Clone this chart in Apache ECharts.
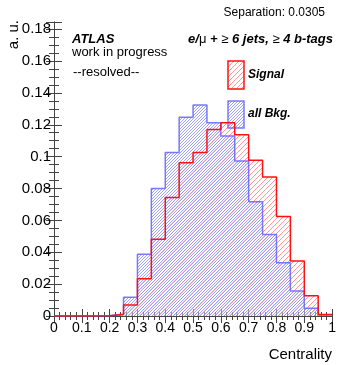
<!DOCTYPE html>
<html>
<head>
<meta charset="utf-8">
<script src="https://cdn.jsdelivr.net/npm/echarts@6/dist/echarts.min.js"></script>
<style>
  html, body { margin: 0; padding: 0; background: #fff; }
  #chart { width: 339px; height: 365px; }
</style>
</head>
<body>
<div id="chart"></div>
<script>
// bin low edges (width 0.05)
const binLow = [0, 0.05, 0.1, 0.15, 0.2, 0.25, 0.3, 0.35, 0.4, 0.45,
  0.5, 0.55, 0.6, 0.65, 0.7, 0.75, 0.8, 0.85, 0.9, 0.95];
const binHigh = 1;

// normalised histograms (a. u.)
const signal = [0, 0, 0, 0.0002, 0.001, 0.0069, 0.0234, 0.0481, 0.0744, 0.0961,
  0.1026, 0.117, 0.1212, 0.1137, 0.0978, 0.0873, 0.0625, 0.0345, 0.0127, 0.001];
const background = [0, 0, 0, 0.0002, 0.0013, 0.0117, 0.0387, 0.080, 0.1026, 0.1248,
  0.1324, 0.1213, 0.1129, 0.0973, 0.0717, 0.0512, 0.0334, 0.0157, 0.0048, 0.0006];

const legendNames = ["Signal", "all Bkg."];
const separationText = "Separation: 0.0305";

const FONT = "Liberation Sans";

// diagonal hatch tile
function hatch(color, size, lw, bg) {
  const c = document.createElement("canvas");
  c.width = size;
  c.height = size;
  const g = c.getContext("2d");
  if (bg) {
    g.fillStyle = bg;
    g.fillRect(0, 0, size, size);
  }
  g.strokeStyle = color;
  g.lineWidth = lw;
  g.beginPath();
  g.moveTo(0, size); g.lineTo(size, 0);
  g.moveTo(-1, 1); g.lineTo(1, -1);
  g.moveTo(size - 1, size + 1); g.lineTo(size + 1, size - 1);
  g.stroke();
  return { image: c, repeat: "repeat" };
}

const redHatch = hatch("rgba(255,50,50,0.5)", 5, 1);
const blueHatch = hatch("rgba(80,90,255,0.55)", 3, 1, "rgba(255,255,255,0.45)");

function stepData(vals) {
  const pts = binLow.map((x, i) => [x, vals[i]]);
  pts.push([binHigh, vals[vals.length - 1]]);
  return pts;
}

const chart = echarts.init(document.getElementById("chart"), null, { renderer: "canvas" });

const axisCol = "#444";
const tickCommon = {
  axisLine: { show: true, lineStyle: { color: axisCol, width: 1 } },
  splitLine: { show: false },
};

chart.setOption({
  animation: false,
  grid: { left: 54, right: 6, top: 22, bottom: 49 },
  xAxis: [
    {
      type: "value", min: 0, max: 1, interval: 0.1, position: "bottom",
      ...tickCommon,
      axisTick: { inside: true, length: 7, lineStyle: { color: axisCol } },
      minorTick: { show: true, splitNumber: 5, length: 4, lineStyle: { color: axisCol } },
      axisLabel: { color: "#000", fontFamily: FONT, fontSize: 14, margin: 5 },
    },
    {
      type: "value", min: 0, max: 1, interval: 0.1, position: "top",
      ...tickCommon,
      axisTick: { inside: true, length: 7, lineStyle: { color: axisCol } },
      minorTick: { show: true, splitNumber: 5, length: 4, lineStyle: { color: axisCol } },
      axisLabel: { show: false },
    },
  ],
  yAxis: [
    {
      type: "value", min: 0, max: 0.1845, interval: 0.02, position: "left",
      ...tickCommon,
      axisTick: { inside: true, length: 8, lineStyle: { color: axisCol } },
      minorTick: { show: true, splitNumber: 4, length: 5, lineStyle: { color: axisCol } },
      axisLabel: {
        color: "#000", fontFamily: FONT, fontSize: 15, margin: 3, showMaxLabel: false,
        formatter: (v) => (Math.abs(v / 0.02 - Math.round(v / 0.02)) < 1e-6 ? String(+v.toFixed(2)) : ""),
      },
    },
    {
      type: "value", min: 0, max: 0.1845, interval: 0.02, position: "right",
      ...tickCommon,
      axisTick: { inside: true, length: 8, lineStyle: { color: axisCol } },
      minorTick: { show: true, splitNumber: 4, length: 5, lineStyle: { color: axisCol } },
      axisLabel: { show: false },
    },
  ],
  series: [
    {
      name: legendNames[0], type: "line", step: "end", data: stepData(signal),
      showSymbol: false, z: 2,
      lineStyle: { width: 0 },
      areaStyle: { color: redHatch, opacity: 1 },
    },
    {
      name: legendNames[1], type: "line", step: "end", data: stepData(background),
      showSymbol: false, z: 3,
      lineStyle: { color: "rgba(90,90,255,0.8)", width: 1.5 },
      areaStyle: { color: blueHatch, opacity: 1 },
    },
    {
      name: legendNames[0] + " outline", type: "line", step: "end", data: stepData(signal),
      showSymbol: false, z: 4,
      lineStyle: { color: "#ff1010", width: 1.5 },
    },
  ],
  graphic: [
    { type: "text", x: 325, y: 13, style: { text: separationText, fontFamily: FONT, fontSize: 12, fill: "#000", textAlign: "right", textVerticalAlign: "middle" } },
    { type: "text", x: 14, y: 20, rotation: Math.PI / 2, style: { text: "a. u.", fontFamily: FONT, fontSize: 15, fill: "#000", textAlign: "right", textVerticalAlign: "middle" } },
    { type: "text", x: 332, y: 355, style: { text: "Centrality", fontFamily: FONT, fontSize: 15, fill: "#000", textAlign: "right", textVerticalAlign: "middle" } },
    { type: "text", x: 72, y: 39, style: { text: "ATLAS", fontFamily: FONT, fontSize: 13, fontWeight: "bold", fontStyle: "italic", fill: "#000", textAlign: "left", textVerticalAlign: "middle" } },
    { type: "text", x: 72, y: 52, style: { text: "work in progress", fontFamily: FONT, fontSize: 13, fill: "#000", textAlign: "left", textVerticalAlign: "middle" } },
    { type: "text", x: 73, y: 72, style: { text: "--resolved--", fontFamily: FONT, fontSize: 13, fill: "#000", textAlign: "left", textVerticalAlign: "middle" } },
    {
      type: "text", x: 333, y: 39,
      style: {
        text: "{b|e/}{n|μ}{b| + }{n|≥}{b| 6 jets, }{n|≥}{b| 4 b-tags}",
        textAlign: "right", textVerticalAlign: "middle",
        rich: {
          b: { fontFamily: FONT, fontSize: 13, fontWeight: "bold", fontStyle: "italic", fill: "#000" },
          n: { fontFamily: FONT, fontSize: 13, fill: "#000" },
        },
      },
    },
    { type: "rect", shape: { x: 228, y: 61, width: 16, height: 28 }, style: { fill: redHatch, stroke: "#ff1010", lineWidth: 1.5 } },
    { type: "rect", shape: { x: 228, y: 101, width: 16, height: 27 }, style: { fill: blueHatch, stroke: "rgba(90,90,255,0.8)", lineWidth: 1.5 } },
    { type: "text", x: 248, y: 75, style: { text: legendNames[0], fontFamily: FONT, fontSize: 12, fontWeight: "bold", fontStyle: "italic", fill: "#000", textAlign: "left", textVerticalAlign: "middle" } },
    { type: "text", x: 248, y: 114, style: { text: legendNames[1], fontFamily: FONT, fontSize: 12, fontWeight: "bold", fontStyle: "italic", fill: "#000", textAlign: "left", textVerticalAlign: "middle" } },
  ],
});
</script>
</body>
</html>
